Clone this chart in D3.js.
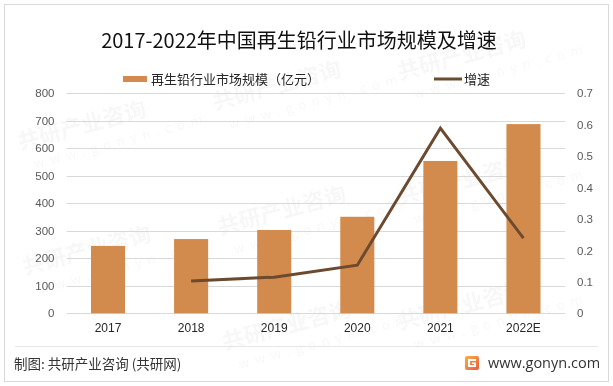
<!DOCTYPE html>
<html><head><meta charset="utf-8">
<script src="https://cdn.jsdelivr.net/npm/d3@7"></script>
<style>
html,body{margin:0;padding:0;background:#fff;}
svg{display:block;font-family:"Microsoft YaHei","Noto Sans CJK SC",sans-serif;}
</style></head>
<body>
<svg id="chart" width="613" height="386"></svg>
<script>
const categories = ["2017","2018","2019","2020","2021","2022E"];
const marketSize = [245, 270, 303, 351, 554, 688];
const growth = [null, 0.103, 0.115, 0.153, 0.589, 0.239];
const leftTicks = [0,100,200,300,400,500,600,700,800];
const rightTicks = [0,0.1,0.2,0.3,0.4,0.5,0.6,0.7];
const title = "2017-2022年中国再生铅行业市场规模及增速";
const legendBar = "再生铅行业市场规模（亿元）";
const legendLine = "增速";
const source = "制图: 共研产业咨询 (共研网)";
const site = "www.gonyn.com";

const svg = d3.select("#chart");
const plot = {left: 66.5, right: 565, top: 93.3, bottom: 313.3};

// outer frame
svg.append("rect").attr("x",4.5).attr("y",4.5).attr("width",604).attr("height",377)
  .attr("fill","#fff").attr("stroke","#d9d9d9").attr("stroke-width",1);

// faint watermarks (kept inside the frame)
const wm = svg.append("g").attr("fill","#000").attr("opacity",0.035);
const wmPos = [[20,150],[215,110],[400,80],[25,275],[220,235],[400,205],[225,350],[400,330]];
wmPos.forEach(([x,y])=>{
  const g = wm.append("g").attr("transform",`translate(${x},${y}) rotate(-15)`);
  g.append("text").attr("font-size",22).attr("font-weight","bold").text("共研产业咨询");
  g.append("text").attr("y",22).attr("x",10).attr("font-size",13).attr("letter-spacing","6px").text("www.gonyn.com");
});

const x = d3.scaleBand().domain(categories).range([plot.left, plot.right]).paddingInner(0.59).paddingOuter(0.295);
const yL = d3.scaleLinear().domain([0,800]).range([plot.bottom, plot.top]);
const yR = d3.scaleLinear().domain([0,0.7]).range([plot.bottom, plot.top]);

// gridlines
svg.append("g").selectAll("line").data(leftTicks).join("line")
  .attr("x1",plot.left).attr("x2",plot.right)
  .attr("y1",d=>Math.round(yL(d))+0.5).attr("y2",d=>Math.round(yL(d))+0.5)
  .attr("stroke","#d9d9d9").attr("stroke-width",1);

// left axis
const axL = svg.append("g").attr("transform",`translate(${plot.left},0)`)
  .call(d3.axisLeft(yL).tickValues(leftTicks).tickSize(0).tickPadding(12));
axL.select(".domain").remove();
axL.selectAll("text").attr("font-size",11.5).attr("fill","#595959").attr("font-family","Arial, Liberation Sans, sans-serif");

// right axis
const axR = svg.append("g").attr("transform",`translate(${plot.right},0)`)
  .call(d3.axisRight(yR).tickValues(rightTicks).tickSize(0).tickPadding(12).tickFormat(d=>d===0?"0":d3.format(".1f")(d)));
axR.select(".domain").remove();
axR.selectAll("text").attr("font-size",11.5).attr("fill","#595959").attr("font-family","Arial, Liberation Sans, sans-serif");

// bars
svg.append("g").selectAll("rect").data(categories).join("rect")
  .attr("x",d=>x(d)).attr("width",x.bandwidth())
  .attr("y",(d,i)=>yL(marketSize[i])).attr("height",(d,i)=>yL(0)-yL(marketSize[i]))
  .attr("fill","#D38B4D");

// line
const pts = categories.map((c,i)=>({c,v:growth[i]})).filter(p=>p.v!==null);
svg.append("path").datum(pts)
  .attr("d",d3.line().x(p=>x(p.c)+x.bandwidth()/2).y(p=>yR(p.v)))
  .attr("fill","none").attr("stroke","#6B4A2F").attr("stroke-width",3).attr("stroke-linejoin","miter");

// x axis labels
const axX = svg.append("g").attr("transform",`translate(0,${plot.bottom})`)
  .call(d3.axisBottom(x).tickSize(0).tickPadding(10));
axX.select(".domain").remove();
axX.selectAll("text").attr("font-size",12).attr("fill","#262626").attr("font-family","Arial, Liberation Sans, sans-serif");

// title
svg.append("text").attr("x",299).attr("y",48).attr("text-anchor","middle")
  .attr("font-size",20).attr("fill","#111").text(title);

// legend
svg.append("rect").attr("x",123).attr("y",76).attr("width",24).attr("height",6).attr("fill","#D38B4D");
svg.append("text").attr("x",151).attr("y",84).attr("font-size",13).attr("fill","#262626").text(legendBar);
svg.append("line").attr("x1",434).attr("x2",462).attr("y1",79).attr("y2",79).attr("stroke","#6B4A2F").attr("stroke-width",3);
svg.append("text").attr("x",464).attr("y",84).attr("font-size",13).attr("fill","#262626").text(legendLine);

// footer separator
svg.append("line").attr("x1",15).attr("x2",598).attr("y1",346.5).attr("y2",346.5).attr("stroke","#e6e6e6");
svg.append("text").attr("x",14).attr("y",369).attr("font-size",13.5).attr("fill","#333").attr("font-family","Noto Sans CJK SC, sans-serif").text(source);

// logo
const grad = svg.append("defs").append("linearGradient").attr("id","lg").attr("x1",0).attr("y1",0).attr("x2",1).attr("y2",1);
grad.append("stop").attr("offset","0%").attr("stop-color","#F7B24A");
grad.append("stop").attr("offset","100%").attr("stop-color","#EE5A3A");
const logo = svg.append("g").attr("transform","translate(465,356)");
logo.append("rect").attr("width",14).attr("height",14).attr("rx",2).attr("fill","url(#lg)");
logo.append("path").attr("d","M3,3 H11 V5 H5 V9 H9 V8 H7 V6.5 H11 V11 H3 Z").attr("fill","#fff");
svg.append("text").attr("x",488).attr("y",368).attr("font-size",14.5).attr("fill","#333").attr("font-family","Open Sans, Noto Sans, sans-serif").text(site);
</script>
</body></html>
